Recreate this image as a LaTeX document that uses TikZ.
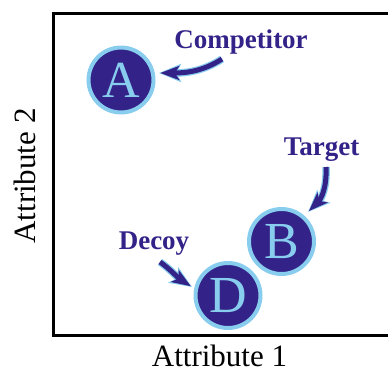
\documentclass[tikz,border=0pt]{standalone}
\usepackage{fontspec}
\setmainfont{Liberation Serif}
\usetikzlibrary{arrows.meta}
\definecolor{tolindigo}{HTML}{332288}
\definecolor{tolcyan}{HTML}{88CCEE}
\tikzset{
  item/.style={circle, draw=tolcyan, fill=tolindigo, line width=4pt,
    minimum size=65pt, inner sep=0pt, text=tolcyan,
    font=\fontsize{52}{52}\selectfont},
  lbl/.style={anchor=base, text=tolindigo, inner sep=0pt,
    font=\fontsize{27}{27}\selectfont\bfseries},
  axlbl/.style={anchor=base, inner sep=0pt, font=\fontsize{31}{31}\selectfont},
  arrout/.style={draw=tolcyan, line width=7.5pt,
    -{Stealth[length=22pt, width=18pt, inset=5pt]}},
  arrin/.style={draw=tolindigo, line width=5pt, shorten >=1.3pt,
    -{Stealth[length=19pt, width=14pt, inset=4.5pt]}},
}
\begin{document}
\begin{tikzpicture}[x=1pt, y=-1pt]
\useasboundingbox (0,0) rectangle (388,373);
% frame
\draw[line width=3pt] (389,13.7) -- (53.3,13.7) -- (53.3,335) -- (389,335);
% axis labels
\node[axlbl] (ax1) at (219.5,366.5) {Attribute 1};
\node[axlbl, rotate=90] (ax2) at (35,176) {Attribute 2};
% items
\node[item] (A) at (121,80) {A};
\node[item] (B) at (281.5,241.5) {B};
\node[item] (D) at (228,295.5) {D};
% labels
\node[lbl] (comp) at (241,48) {Competitor};
\node[lbl] (targ) at (321.5,155) {Target};
\node[lbl] (dec) at (154,249) {Decoy};
% arrow ends
\coordinate (cs) at (222,59);
\coordinate (ce) at (159,73);
\coordinate (ts) at (326,167);
\coordinate (te) at (308,212);
\coordinate (ds) at (160,262);
\coordinate (de) at (192,287);
% arrows
\foreach \s in {arrout, arrin}{
  \draw[\s] (cs) .. controls (202,72) and (184,73) .. (ce);
  \draw[\s] (ts) .. controls (327,188) and (321,199) .. (te);
  \draw[\s] (ds) .. controls (170,269) and (178,278) .. (de);
}
\end{tikzpicture}
\end{document}
